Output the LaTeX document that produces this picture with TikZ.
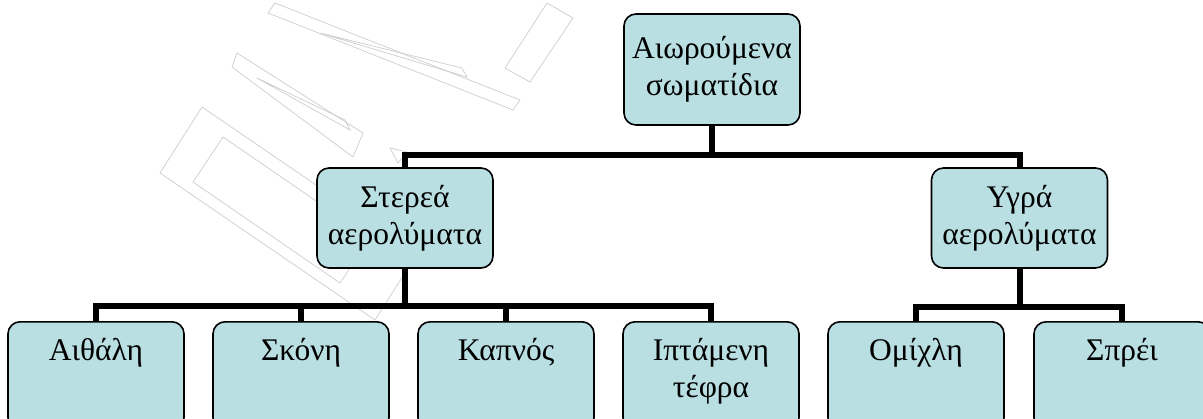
\documentclass[tikz,border=0pt]{standalone}
\usepackage{fontspec}
\setmainfont{Liberation Serif}
\definecolor{boxfill}{RGB}{185,223,227}
\definecolor{markgray}{RGB}{205,205,205}
\begin{document}
\begin{tikzpicture}[x=1pt,y=-1pt,
  box/.style={draw=black, line width=1.6pt, rounded corners=12pt, fill=boxfill,
              minimum width=176pt, inner sep=0pt, align=center,
              font=\fontsize{31.5}{37}\selectfont},
  leaf/.style={box, minimum height=108pt, anchor=north},
  lbl/.style={inner sep=0pt, align=center, font=\fontsize{31.5}{37}\selectfont},
  conn/.style={draw=black, line width=6pt, line join=miter},
  logoline/.style={draw=markgray, line width=0.7pt}]
\useasboundingbox (0,0) rectangle (1203,418);
\clip (0,0) rectangle (1203,418);
\fill[white] (0,0) rectangle (1203,418);

% faint logo in the background
\draw[logoline] (202,107) -- (160,173) -- (375,320) -- (417,254) -- cycle;
\draw[logoline] (223,137) -- (193,182) -- (340,283) -- (370,238) -- cycle;
\draw[logoline] (237,53) -- (232,67) -- (353,157) -- (363,133) -- cycle;
\draw[logoline] (257,78) -- (350,130) -- (345,120) -- cycle;
\draw[logoline] (275,3) -- (268,13) -- (513,110) -- (520,100) -- cycle;
\draw[logoline] (320,33) -- (467,77) -- (462,68) -- cycle;
\draw[logoline] (547,3) -- (573,18) -- (530,82) -- (505,68) -- cycle;
\draw[logoline] (390,148) -- (407,152) -- (398,163) -- cycle;

% top level
\node[box, minimum height=111pt] (root) at (712,69.5) {Αιωρούμενα\\σωματίδια};

% second level
\node[box, minimum height=100pt] (ster) at (405,218) {Στερεά\\αερολύματα};
\node[box, minimum height=100pt] (ygra) at (1019.5,218) {Υγρά\\αερολύματα};

% third level boxes
\node[leaf] (aith) at (96,321) {};
\node[leaf] (skon) at (301,321) {};
\node[leaf] (kapn) at (506,321) {};
\node[leaf] (ipta) at (711,321) {};
\node[leaf] (omix) at (916,321) {};
\node[leaf] (spre) at (1122,321) {};

% third level labels, set at the top of each box
\node[lbl, anchor=base] (aithT) at ([yshift=-39pt]aith.north) {Αιθάλη};
\node[lbl, anchor=base] (skonT) at ([yshift=-39pt]skon.north) {Σκόνη};
\node[lbl, anchor=base] (kapnT) at ([yshift=-39pt]kapn.north) {Καπνός};
\node[lbl, anchor=base] (iptaT) at ([yshift=-39pt]ipta.north) {Ιπτάμενη};
\node[lbl, anchor=base] (iptaT2) at ([yshift=-76pt]ipta.north) {τέφρα};
\node[lbl, anchor=base] (omixT) at ([yshift=-39pt]omix.north) {Ομίχλη};
\node[lbl, anchor=base] (spreT) at ([yshift=-39pt]spre.north) {Σπρέι};

% junction points of the tree
\coordinate (j1) at (712,155);
\coordinate (j2) at (405,306);
\coordinate (j3) at (1019.5,307);

\draw[conn] (root.south) -- (j1);
\draw[conn] (ster.north) |- (j1);
\draw[conn] (ygra.north) |- (j1);

\draw[conn] (ster.south) -- (j2);
\draw[conn] (aith.north) |- (j2);
\draw[conn] (skon.north) |- (j2);
\draw[conn] (kapn.north) |- (j2);
\draw[conn] (ipta.north) |- (j2);

\draw[conn] (ygra.south) -- (j3);
\draw[conn] (omix.north) |- (j3);
\draw[conn] (spre.north) |- (j3);
\end{tikzpicture}
\end{document}
